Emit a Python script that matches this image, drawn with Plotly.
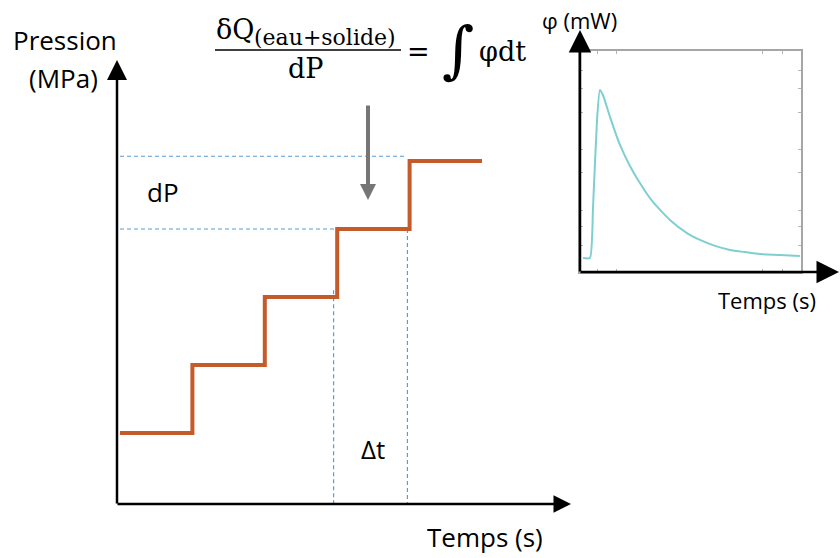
import plotly.graph_objects as go

W, H = 840, 558

# ---------------- data ----------------
# main chart: pressure steps vs time (arbitrary units)
step_time = [0, 1, 2, 3, 4, 5]
step_pressure = [1, 2, 3, 4, 5, 5]

# inset: heat flow peak vs time (arbitrary units)
flow_time = [1.4, 4.5, 5.9, 7.7, 9.0, 10.4, 13.6, 18.1, 22.6, 27.1, 33.0, 40.7,
             48.4, 54.3, 61.1, 67.9, 74.7, 81.4, 90.5, 99.5]
flow_phi = [0.63, 0.63, 2.94, 6.88, 8.24, 8.01, 7.01, 5.75, 4.80, 4.03, 3.17, 2.35,
            1.76, 1.45, 1.18, 1.00, 0.90, 0.81, 0.77, 0.72]

inset_xticks = [7.7, 16.3, 82.5, 91.5]
inset_yticks = [1.2, 2.05, 2.8, 4.5, 5.55, 7.2, 8.3, 9.1]

# ---------------- layout helpers ----------------
X0, DX = 120, 72.4     # pixel of t=0, pixels per time unit
Y0, DY = 433, 68       # pixel of P=1, pixels per pressure unit


def mx(px):
    return (px - X0) / DX


def my(py):
    return 1 + (Y0 - py) / DY


def px(x):
    return x / W


def py(y):
    return 1 - y / H


IX0, IX1, IY0, IY1 = 580, 801, 51, 272  # inset box pixels
INSET_XR = [0, 100]
INSET_YR = [0, 10]

fig = go.Figure()

fig.add_trace(go.Scatter(
    x=step_time, y=step_pressure, mode="lines", line_shape="hv",
    line=dict(color="#C55A2B", width=4), xaxis="x", yaxis="y",
    hoverinfo="skip", showlegend=False))

fig.add_trace(go.Scatter(
    x=flow_time, y=flow_phi, mode="lines", line_shape="spline",
    line=dict(color="#7FCFD0", width=2, smoothing=0.5), xaxis="x2", yaxis="y2",
    hoverinfo="skip", showlegend=False))

DASH = dict(color="#5B9BD5", width=1.2, dash="4px,3px")
shapes = [
    # horizontal guides (dP)
    dict(type="line", xref="x", yref="y", x0=step_time[0], x1=step_time[4] - 0.06,
         y0=step_pressure[4] + 0.07, y1=step_pressure[4] + 0.07, line=DASH, layer="below"),
    dict(type="line", xref="x", yref="y", x0=step_time[0], x1=step_time[3] + 0.04,
         y0=step_pressure[3], y1=step_pressure[3], line=DASH, layer="below"),
    # vertical guides (Δt)
    dict(type="line", xref="x", yref="y", x0=step_time[3] - 0.05, x1=step_time[3] - 0.05,
         y0=step_pressure[2] + 0.1, y1=my(505), line=DASH, layer="below"),
    dict(type="line", xref="x", yref="y", x0=step_time[4] - 0.03, x1=step_time[4] - 0.03,
         y0=step_pressure[3], y1=my(505), line=DASH, layer="below"),
    # fraction bar
    dict(type="line", xref="paper", yref="paper", x0=px(215), x1=px(401),
         y0=py(50), y1=py(50), line=dict(color="black", width=1.5)),
]

annotations = []


def arrow(x, y, ax, ay, color, width, size):
    annotations.append(dict(x=mx(x), y=my(y), ax=mx(ax), ay=my(ay), xref="x", yref="y",
                            axref="x", ayref="y",
                            text="", showarrow=True, arrowhead=2, arrowsize=size,
                            arrowwidth=width, arrowcolor=color, standoff=0))


# main axes
arrow(117, 60, 117, 505, "black", 2.5, 1.6)
arrow(571, 504, 116, 504, "black", 2.5, 1.4)
# gray pointer
arrow(368, 200, 368, 104, "#767676", 4, 0.8)
# inset axes
arrow(580, 30, 580, 273, "black", 2.5, 1.8)
arrow(839, 272, 579, 272, "black", 2.5, 1.8)

SANS = "Open Sans"
SERIF = "DejaVu Serif"


def label(text, x, y, size, family=SANS, xanchor="center"):
    annotations.append(dict(text=text, x=px(x), y=py(y), xref="paper", yref="paper",
                            showarrow=False, xanchor=xanchor, yanchor="middle",
                            font=dict(family=family, size=size, color="black")))


label("Pression", 65, 40, 26)
label("(MPa)", 63, 78, 26)
label("dP", 163, 192, 26)
label("Δt", 373, 449, 26)
label("Temps (s)", 485, 537, 26)
label("φ (mW)", 579, 20, 22)
label("Temps (s)", 767, 300, 22)

# formula
label("δQ", 214, 30, 27, SERIF, "left")
label("(eau+solide)", 252, 38, 22, SERIF, "left")
label("dP", 305, 68, 27, SERIF)
label("=", 418, 52, 27, SERIF)
label("∫", 458, 49, 62, SERIF)
label("φdt", 477, 52, 27, SERIF, "left")

fig.update_layout(
    width=W, height=H, margin=dict(l=0, r=0, t=0, b=0),
    paper_bgcolor="white", plot_bgcolor="rgba(0,0,0,0)",
    showlegend=False, shapes=shapes, annotations=annotations,
    xaxis=dict(domain=[0, 1], range=[mx(0), mx(W)], visible=False, fixedrange=True),
    yaxis=dict(domain=[0, 1], range=[my(H), my(0)], visible=False, fixedrange=True),
    xaxis2=dict(domain=[px(IX0), px(IX1)], range=INSET_XR, anchor="y2",
                showline=True, linecolor="#A6A6A6", linewidth=1.5, mirror="ticks",
                ticks="inside", ticklen=3, tickcolor="#B5B5B5", tickvals=inset_xticks,
                showticklabels=False, showgrid=False, zeroline=False),
    yaxis2=dict(domain=[py(IY1), py(IY0)], range=INSET_YR, anchor="x2",
                showline=True, linecolor="#A6A6A6", linewidth=1.5, mirror="ticks",
                ticks="inside", ticklen=3, tickcolor="#B5B5B5", tickvals=inset_yticks,
                showticklabels=False, showgrid=False, zeroline=False),
)

fig.write_html("out.html")
